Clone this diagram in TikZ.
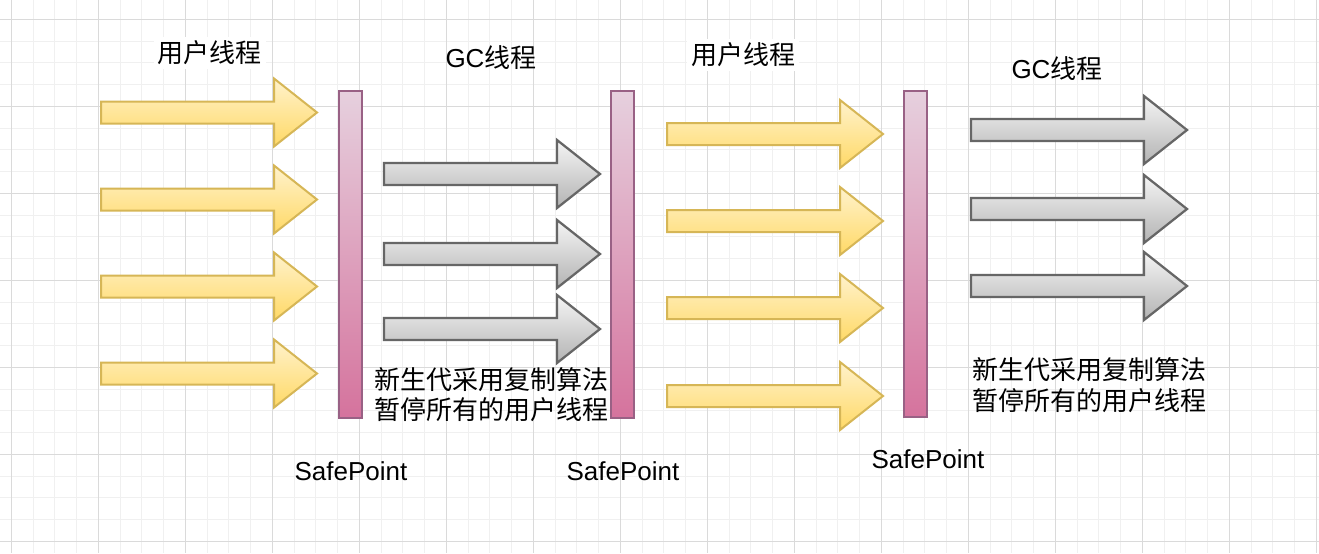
\documentclass[tikz,border=0pt]{standalone}
\usepackage{fontspec}
\setmainfont{Liberation Sans}
\newfontfamily\cjk{Noto Sans CJK SC}
\definecolor{ytop}{HTML}{FFF2CC}
\definecolor{ybot}{HTML}{FFD966}
\definecolor{ystroke}{HTML}{D6B656}
\definecolor{gtop}{HTML}{F5F5F5}
\definecolor{gbot}{HTML}{B3B3B3}
\definecolor{gstroke}{HTML}{666666}
\definecolor{ptop}{HTML}{E6D0DE}
\definecolor{pbot}{HTML}{D5739D}
\definecolor{pstroke}{HTML}{996185}
\definecolor{majorgridc}{HTML}{DADADA}
\definecolor{minorgridc}{HTML}{F0F0F0}
\newcommand{\blockarr}[4]{%
  \coordinate (#4) at (#2,#3);
  \path[#1] (#2,#3-11) -- (#2+173,#3-11) -- (#2+173,#3-34) -- (#2+216,#3)
    -- (#2+173,#3+34) -- (#2+173,#3+11) -- (#2,#3+11) -- cycle;}
\begin{document}
\begin{tikzpicture}[x=0.75pt,y=-0.75pt,
  minorgrid/.style={draw=minorgridc,line width=0.75pt},
  majorgrid/.style={draw=majorgridc,line width=0.75pt},
  yarrow/.style={draw=ystroke,line width=1.5pt,top color=ytop,bottom color=ybot},
  garrow/.style={draw=gstroke,line width=1.7pt,top color=gtop,bottom color=gbot},
  spbar/.style={draw=pstroke,line width=1.5pt,top color=ptop,bottom color=pbot,
    minimum width=17.25pt,minimum height=244.9pt,inner sep=0pt},
  lbl/.style={font=\fontsize{19.5}{22.5}\selectfont,inner sep=0pt},
  toplbl/.style={lbl,fill=white,inner sep=3pt}]
\useasboundingbox (0,0) rectangle (1319,553);
\fill[white] (0,0) rectangle (1319,553);
% grid
\foreach \i in {0,...,60} {
  \draw[minorgrid] ({11.3+21.75*\i},0) -- ({11.3+21.75*\i},553);
}
\foreach \i in {0,...,25} {
  \draw[minorgrid] (0,{19.3+21.75*\i}) -- (1319,{19.3+21.75*\i});
}
\foreach \i in {0,...,15} {
  \draw[majorgrid] ({11.3+87*\i},0) -- ({11.3+87*\i},553);
}
\foreach \i in {0,...,6} {
  \draw[majorgrid] (0,{19.3+87*\i}) -- (1319,{19.3+87*\i});
}
% user threads (column 1)
\blockarr{yarrow}{101}{112.5}{ua1}
\blockarr{yarrow}{101}{199.5}{ua2}
\blockarr{yarrow}{101}{286.5}{ua3}
\blockarr{yarrow}{101}{373.5}{ua4}
% GC threads (column 2)
\blockarr{garrow}{384}{174}{ga1}
\blockarr{garrow}{384}{254}{ga2}
\blockarr{garrow}{384}{329}{ga3}
% user threads (column 3)
\blockarr{yarrow}{667}{134}{ub1}
\blockarr{yarrow}{667}{221}{ub2}
\blockarr{yarrow}{667}{308}{ub3}
\blockarr{yarrow}{667}{396}{ub4}
% GC threads (column 4)
\blockarr{garrow}{971}{130}{gb1}
\blockarr{garrow}{971}{209}{gb2}
\blockarr{garrow}{971}{286}{gb3}
% safepoint bars
\node[spbar] (sp1) at (350,254.25) {};
\node[spbar] (sp2) at (622.25,254.25) {};
\node[spbar] (sp3) at (915.8,254) {};
% labels
\node[toplbl] (u1) at (209.5,53) {\cjk 用户线程};
\node[lbl] (g1) at (491,58) {GC{\cjk 线程}};
\node[toplbl] (u2) at (743,55) {\cjk 用户线程};
\node[lbl] (g2) at (1057,68.5) {GC{\cjk 线程}};
\node[lbl] (s1) at (351,471) {SafePoint};
\node[lbl] (s2) at (623,471) {SafePoint};
\node[lbl] (s3) at (928,459) {SafePoint};
\node[lbl,anchor=west,align=left,font=\fontsize{19.5}{22.5}\selectfont\cjk] (n1) at (374,395) {新生代采用复制算法\\暂停所有的用户线程};
\node[lbl,anchor=west,align=left,font=\fontsize{19.5}{23.5}\selectfont\cjk] (n2) at (972,385) {新生代采用复制算法\\暂停所有的用户线程};
\end{tikzpicture}
\end{document}
